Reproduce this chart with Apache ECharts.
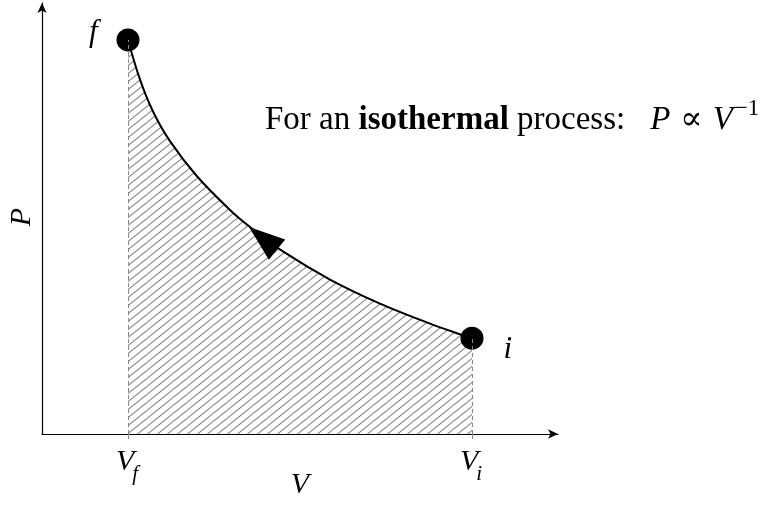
<!DOCTYPE html>
<html>
<head>
<meta charset="utf-8">
<script src="https://cdn.jsdelivr.net/npm/echarts@6/dist/echarts.min.js"></script>
<style>
  html, body { margin: 0; padding: 0; background: #fff; }
  #chart { width: 774px; height: 524px; }
</style>
</head>
<body>
<div id="chart"></div>
<script>
// Isothermal compression path, f <- i, sampled along the curve
const volume   = [1.000, 1.140, 1.291, 1.488, 1.802, 2.186, 2.419, 2.802, 3.349, 3.930, 4.512, 4.895, 5.000];
const pressure = [4.571, 4.111, 3.741, 3.397, 2.990, 2.599, 2.401, 2.118, 1.792, 1.513, 1.281, 1.146, 1.111];

// End states of the process
const stateNames    = ['f', 'i'];
const stateVolume   = [1.000, 5.000];
const statePressure = [4.571, 1.111];

// Direction marker sitting on the curve
const arrowPoint = [2.57, 2.27];

// Volume tick labels (V with subscript)
const tickSubscripts = ['f', 'i'];

const SERIF = "'Liberation Serif', 'DejaVu Serif', serif";

// Diagonal hatch tile for the work area
function hatchTile() {
  const w = 10, h = 8;
  const c = document.createElement('canvas');
  c.width = w; c.height = h;
  const g = c.getContext('2d');
  g.strokeStyle = '#8c8c8c';
  g.lineWidth = 1.1;
  for (const dx of [-w, 0, w]) {
    g.beginPath();
    g.moveTo(dx - 1, h + h / w);
    g.lineTo(dx + w + 1, -h / w);
    g.stroke();
  }
  return c;
}

const chart = echarts.init(document.getElementById('chart'));

const curveData = volume.map((v, k) => [v, pressure[k]]);

chart.setOption({
  animation: false,
  grid: { left: 42, top: 3, width: 516, height: 431, containLabel: false },
  xAxis: {
    type: 'value', min: 0, max: 6,
    axisLine: { show: true, symbol: ['none', 'arrow'], symbolSize: [7, 10],
                lineStyle: { color: '#000', width: 1.2 } },
    axisTick: { show: true, customValues: stateVolume, length: 5, inside: false,
                lineStyle: { color: '#888', width: 1 } },
    axisLabel: { show: false },
    splitLine: { show: false }
  },
  yAxis: {
    type: 'value', min: 0, max: 5,
    axisLine: { show: true, symbol: ['none', 'arrow'], symbolSize: [7, 10],
                lineStyle: { color: '#000', width: 1.2 } },
    axisTick: { show: false },
    axisLabel: { show: false },
    splitLine: { show: false }
  },
  series: [
    {
      type: 'line',
      data: curveData,
      smooth: 0.35,
      symbol: 'none',
      lineStyle: { color: '#000', width: 2 },
      areaStyle: { color: { image: hatchTile(), repeat: 'repeat' }, opacity: 1 },
      markLine: {
        silent: true,
        symbol: 'none',
        label: { show: false },
        lineStyle: { color: '#888', width: 1, type: [4, 3] },
        data: stateVolume.map((v, k) => [{ coord: [v, 0] }, { coord: [v, statePressure[k]] }])
      },
      z: 2
    },
    {
      type: 'scatter',
      data: [arrowPoint],
      symbol: 'triangle',
      symbolSize: [26, 36],
      symbolRotate: 51,
      itemStyle: { color: '#000', opacity: 1 },
      z: 3
    },
    {
      type: 'scatter',
      symbolSize: 23,
      itemStyle: { color: '#000', opacity: 1 },
      data: stateNames.map((n, k) => ({
        value: [stateVolume[k], statePressure[k]],
        name: n,
        label: k === 0
          ? { position: 'left', distance: 19, offset: [0, -7] }
          : { position: 'right', distance: 20, offset: [0, 12] }
      })),
      label: {
        show: true,
        formatter: p => p.name,
        color: '#000',
        fontFamily: SERIF,
        fontStyle: 'italic',
        fontSize: 31
      },
      z: 4
    }
  ]
});

// Text placement helpers
const measureCtx = document.createElement('canvas').getContext('2d');
function textWidth(style, weight, size, s) {
  measureCtx.font = `${style} ${weight} ${size}px ${SERIF}`;
  return measureCtx.measureText(s).width;
}
function textEl(x, y, s, opts) {
  const o = Object.assign({ style: 'normal', weight: 'normal', size: 30, align: 'left', rotation: 0 }, opts || {});
  return {
    type: 'text', x, y, rotation: o.rotation, silent: true,
    style: {
      text: s, fill: '#000', fontFamily: SERIF, fontSize: o.size,
      fontStyle: o.style, fontWeight: o.weight, align: o.align, verticalAlign: 'middle'
    }
  };
}

const graphics = [];

// Volume tick labels
stateVolume.forEach((v, k) => {
  const [px, py] = chart.convertToPixel({ gridIndex: 0 }, [v, 0]);
  const vw = textWidth('italic', 'normal', 30, 'V');
  const sw = textWidth('italic', 'normal', 21, tickSubscripts[k]);
  const x0 = px - (vw + sw) / 2;
  graphics.push(textEl(x0, py + 28, 'V', { style: 'italic' }));
  graphics.push(textEl(x0 + vw - 2, py + 40, tickSubscripts[k], { style: 'italic', size: 21 }));
});

// Axis names
graphics.push(textEl(300, 485, 'V', { style: 'italic', align: 'center' }));
graphics.push(textEl(22, 217, 'P', { style: 'italic', align: 'center', rotation: Math.PI / 2 }));

// Annotation line: sentence, then the proportionality
const annY = 120, annSize = 33;
let cx = 265;
[
  ['For an ', 'normal', 'normal'],
  ['isothermal', 'normal', 'bold'],
  [' process:', 'normal', 'normal']
].forEach(([s, st, wt]) => {
  graphics.push(textEl(cx, annY, s, { style: st, weight: wt, size: annSize }));
  cx += textWidth(st, wt, annSize, s);
});
cx += 25;
graphics.push(textEl(cx, annY, 'P', { style: 'italic', size: annSize }));
cx += textWidth('italic', 'normal', annSize, 'P') + 10;
graphics.push(textEl(cx, annY, '\u221D', { size: annSize }));
cx += textWidth('normal', 'normal', annSize, '\u221D') + 10;
graphics.push(textEl(cx, annY, 'V', { style: 'italic', size: annSize }));
cx += textWidth('italic', 'normal', annSize, 'V') + 2;
graphics.push(textEl(cx, annY - 11, '\u22121', { size: 23 }));

chart.setOption({ graphic: graphics });
</script>
</body>
</html>
